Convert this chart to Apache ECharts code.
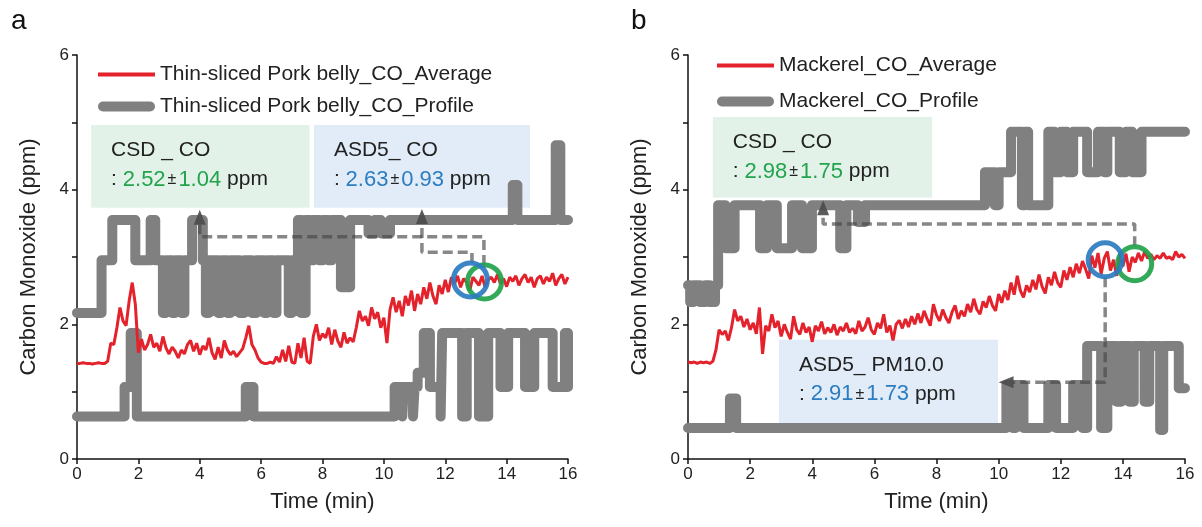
<!DOCTYPE html>
<html>
<head>
<meta charset="utf-8">
<script src="https://cdn.jsdelivr.net/npm/echarts@6/dist/echarts.min.js"></script>
<style>
  html, body { margin: 0; padding: 0; background: #fff; }
  #chart { width: 1202px; height: 527px; }
</style>
</head>
<body>
<div id="chart"></div>
<script>
// average CO, one reading every 0.1 min (0 .. 16 min)
const STEP = 0.1;
const porkAvg = [
  1.42,1.42,1.43,1.42,1.42,1.41,1.42,1.43,1.42,1.42,
  1.45,1.72,1.70,1.95,2.25,2.05,1.98,2.35,2.62,2.30,
  1.58,1.78,1.62,1.70,1.85,1.66,1.72,1.60,1.82,1.65,
  1.56,1.66,1.60,1.50,1.62,1.56,1.70,1.76,1.60,1.72,
  1.55,1.68,1.62,1.80,1.58,1.48,1.66,1.50,1.76,1.62,
  1.55,1.60,1.52,1.58,1.64,1.80,1.98,1.70,1.62,1.50,
  1.44,1.42,1.42,1.44,1.42,1.52,1.44,1.62,1.45,1.68,
  1.44,1.42,1.72,1.50,1.80,1.45,1.42,1.82,2.00,1.76,
  1.86,1.80,1.95,1.70,1.92,1.75,1.66,1.88,1.72,1.80,
  1.74,1.95,2.20,2.05,2.12,1.98,2.25,2.08,2.18,1.95,
  2.10,1.72,2.22,2.40,2.18,2.35,2.12,2.42,2.28,2.50,
  2.20,2.45,2.30,2.55,2.38,2.62,2.42,2.30,2.58,2.45,
  2.66,2.48,2.70,2.60,2.72,2.55,2.68,2.62,2.50,2.70,
  2.64,2.58,2.72,2.55,2.66,2.70,2.62,2.74,2.60,2.68,
  2.56,2.70,2.64,2.72,2.58,2.68,2.74,2.62,2.70,2.55,
  2.68,2.72,2.60,2.70,2.64,2.76,2.58,2.68,2.74,2.60,
  2.70
];
const mackerelAvg = [
  1.44,1.43,1.44,1.42,1.44,1.43,1.44,1.42,1.45,1.62,
  1.92,1.85,1.90,1.76,1.95,2.22,2.05,2.12,1.96,2.08,
  1.92,2.02,1.86,2.25,1.56,1.98,1.90,2.15,1.95,2.05,
  1.82,2.00,1.88,1.78,2.12,1.92,1.85,2.02,1.88,1.96,
  1.74,1.98,1.90,2.04,1.86,1.95,1.88,2.00,1.84,1.96,
  1.90,2.02,1.88,1.94,1.86,2.05,1.90,1.96,2.10,1.92,
  1.85,2.02,1.94,2.15,1.88,1.98,1.76,2.00,2.06,1.94,
  2.08,1.96,2.12,2.00,2.16,2.02,2.20,2.08,1.98,2.30,
  2.14,2.05,2.22,2.10,2.02,2.18,2.28,2.08,2.20,2.12,
  2.30,2.18,2.38,2.22,2.15,2.34,2.25,2.42,2.28,2.20,
  2.45,2.32,2.50,2.36,2.62,2.44,2.72,2.50,2.40,2.58,
  2.48,2.66,2.52,2.74,2.56,2.46,2.70,2.58,2.78,2.62,
  2.55,2.80,2.66,2.85,2.70,2.90,2.76,2.94,2.82,2.68,
  3.02,2.84,3.06,2.75,2.98,3.08,2.80,2.96,2.72,3.04,
  2.86,3.05,2.78,3.00,2.92,3.06,2.94,3.08,2.98,3.04,
  2.96,3.02,2.98,3.06,2.98,3.00,2.96,3.08,3.00,3.04,
  2.98
];

// sensor profiles: [time where the reading changes, new reading]
const porkHigh = [
  [0,2.17],[0.8,2.95],[1.15,3.55],[1.9,2.95],[2.4,3.55],[2.55,2.95],[2.8,2.17],[2.9,2.95],
  [3.1,2.17],[3.2,2.95],[3.4,2.17],[3.5,2.95],[3.75,3.55],[4.1,2.95],[4.2,2.17],[4.3,2.95],
  [4.6,2.17],[4.7,2.95],[4.9,2.17],[5.0,2.95],[5.3,2.17],[5.45,2.95],[5.7,2.17],[5.85,2.95],
  [6.1,2.17],[6.2,2.95],[6.4,2.17],[6.5,2.95],[6.9,2.17],[7.0,2.95],[7.2,3.55],[7.3,2.17],
  [7.45,3.55],[7.6,2.95],[7.7,3.55],[7.9,2.95],[8.0,3.55],[8.2,2.95],[8.3,3.55],[8.6,2.55],
  [8.9,3.55],[9.5,3.35],[9.7,3.55],[9.9,3.35],[10.2,3.55],[14.2,4.07],[14.35,3.55],
  [15.6,4.66],[15.75,3.55],[16,3.55]
];
const porkLow = [
  [0,0.63],[1.55,1.07],[1.75,1.87],[1.95,0.63],[5.5,1.07],[5.75,0.63],[10.35,1.07],[10.6,0.63],
  [10.65,1.07],[10.95,0.63],[11.0,1.07],[11.1,1.28],[11.3,1.87],[11.5,1.07],[11.85,0.63],
  [11.9,1.87],[12.55,0.63],[12.7,1.87],[13.1,0.63],[13.4,1.87],[13.8,1.07],[14.05,1.87],
  [14.6,1.07],[14.9,1.87],[15.5,1.07],[15.9,1.87],[16,1.07]
];
const mackerelHigh = [
  [0,2.58],[0.07,2.33],[0.17,2.58],[0.39,2.33],[0.55,2.58],[0.7,2.33],[0.87,2.58],[0.97,3.77],
  [1.2,3.13],[1.5,3.77],[2.32,3.13],[2.54,3.77],[2.86,3.13],[3.35,3.77],[3.67,3.13],[3.99,3.77],
  [4.9,3.13],[5.1,3.77],[5.47,3.52],[5.7,3.77],[9.56,4.26],[9.88,3.77],[10.0,4.26],[10.4,4.86],
  [10.75,3.77],[10.85,4.86],[10.95,3.77],[11.6,4.86],[11.8,4.26],[12.0,4.86],[12.2,4.26],
  [12.4,4.86],[12.85,4.26],[13.2,4.86],[13.4,4.26],[13.5,4.86],[13.9,4.26],[14.1,4.86],
  [14.3,4.26],[14.6,4.86],[16,4.86]
];
const mackerelLow = [
  [0,0.46],[1.35,0.9],[1.55,0.46],[10.25,1.1],[10.45,0.46],[10.55,1.1],[10.8,0.46],[11.6,1.1],
  [11.85,0.46],[12.4,1.1],[12.7,0.46],[12.85,1.68],[13.3,0.46],[13.5,1.68],[13.8,0.85],
  [13.95,1.68],[14.2,0.85],[14.35,1.68],[14.7,0.85],[14.85,1.68],[15.2,0.43],[15.3,1.68],
  [15.8,1.05],[16,1.05]
];

// annotation values (ppm)
const porkCSD = ['2.52', '1.04'];
const porkASD = ['2.63', '0.93'];
const mackCSD = ['2.98', '1.75'];
const mackASD = ['2.91', '1.73'];

const xTicks = 2;
const RED = '#e3222b', GREY = '#808080', GREEN = '#22a34c', BLUE = '#2b7cc0';
const DASH = 'rgba(70,70,70,0.65)';
const FONT = '"Liberation Sans", Arial, sans-serif';
// legend samples: thin red stroke and thick rounded grey bar
const ICON_THIN = 'path://M0,0 L57,0 L57,4 L0,4 Z';
const ICON_THICK = 'path://M5,0 L52,0 A5,5 0 0 1 52,10 L5,10 A5,5 0 0 1 5,0 Z';

function timed(vals) {
  return vals.map((v, i) => [+(i * STEP).toFixed(1), v]);
}

function boxLabel(title, vals, color) {
  return {
    show: true,
    position: 'insideTopLeft',
    distance: 0,
    padding: [11, 0, 0, 20],
    formatter: '{t|' + title + '}\n{p|: }{c|' + vals[0] + '}{pm|±}{c|' + vals[1] + '}{p| ppm}',
    rich: {
      t: { fontSize: 21, color: '#222', lineHeight: 29, fontFamily: FONT },
      p: { fontSize: 21, color: '#222', lineHeight: 29, fontFamily: FONT },
      pm: { fontSize: 16, color: '#222', lineHeight: 29, padding: [0, 2, 0, 2], fontFamily: FONT },
      c: { fontSize: 22, color: color, lineHeight: 29, fontFamily: FONT }
    }
  };
}

function axisX(idx) {
  return {
    type: 'value', gridIndex: idx, min: 0, max: 16, interval: xTicks,
    name: 'Time (min)', nameLocation: 'middle', nameGap: 32,
    nameTextStyle: { fontSize: 22, color: '#222' },
    axisLine: { lineStyle: { color: '#111', width: 1.5 } },
    axisTick: { length: 5, lineStyle: { color: '#111', width: 1.5 } },
    axisLabel: { fontSize: 17, color: '#222', margin: 7 },
    splitLine: { show: false }
  };
}
function axisY(idx) {
  return {
    type: 'value', gridIndex: idx, min: 0, max: 6, interval: 1,
    name: 'Carbon Monoxide (ppm)', nameLocation: 'middle', nameGap: 37,
    nameTextStyle: { fontSize: 22, color: '#222' },
    axisLine: { show: true, lineStyle: { color: '#111', width: 1.5 } },
    axisTick: { show: true, length: 5, lineStyle: { color: '#111', width: 1.5 } },
    axisLabel: { fontSize: 17, color: '#222', margin: 8,
      formatter: v => (v % 2 === 0 ? v : '') },
    splitLine: { show: false }
  };
}

function panel(idx, names, avg, high, low, boxes, greenPath, bluePath, arrows, circles) {
  const base = { xAxisIndex: idx, yAxisIndex: idx, animation: false, silent: true };
  const profile = {
    type: 'line', step: 'end', symbol: 'none', z: 2,
    lineStyle: { color: GREY, width: 10, cap: 'round', join: 'round' },
    itemStyle: { color: GREY }
  };
  return [
    Object.assign({}, base, {
      type: 'line', data: [], z: 1,
      markArea: { silent: true, data: boxes }
    }),
    Object.assign({}, base, profile, { name: names[1], data: high }),
    Object.assign({}, base, profile, { name: names[1], data: low }),
    Object.assign({}, base, {
      name: names[0], type: 'line', symbol: 'none', z: 3, data: timed(avg),
      lineStyle: { color: RED, width: 3 }, itemStyle: { color: RED }
    }),
    Object.assign({}, base, {
      type: 'line', symbol: 'none', z: 4, data: greenPath,
      lineStyle: { color: DASH, width: 3.5, type: [10, 5] }
    }),
    Object.assign({}, base, {
      type: 'line', symbol: 'none', z: 4, data: bluePath,
      lineStyle: { color: DASH, width: 3.5, type: [10, 5] }
    }),
    Object.assign({}, base, {
      type: 'scatter', z: 5, symbol: 'triangle', symbolSize: [12, 15],
      data: arrows, itemStyle: { color: '#4a4a4a', opacity: 0.9 }
    }),
    Object.assign({}, base, {
      type: 'scatter', z: 6, symbolSize: 34,
      data: circles
    })
  ];
}

const area = (x0, y0, x1, y1, fill, label) => [
  { coord: [x0, y0], itemStyle: { color: fill }, label: label },
  { coord: [x1, y1] }
];
const ring = (x, y, color) => ({
  value: [x, y],
  itemStyle: { color: 'rgba(0,0,0,0)', borderColor: color, borderWidth: 5, opacity: 0.92 }
});

const namesA = ['Thin-sliced Pork belly_CO_Average', 'Thin-sliced Pork belly_CO_Profile'];
const namesB = ['Mackerel_CO_Average', 'Mackerel_CO_Profile'];

const seriesA = panel(0, namesA, porkAvg, porkHigh, porkLow,
  [
    area(0.46, 4.96, 7.58, 3.73, 'rgba(222,240,229,0.85)', boxLabel('CSD _ CO', porkCSD, GREEN)),
    area(7.72, 4.96, 14.76, 3.73, 'rgba(220,233,247,0.85)', boxLabel('ASD5_ CO', porkASD, BLUE))
  ],
  [[13.26, 2.88], [13.26, 3.30], [4.0, 3.30], [4.0, 3.48]],
  [[12.87, 2.91], [12.87, 3.07], [11.24, 3.07], [11.24, 3.50]],
  [[4.0, 3.59], [11.24, 3.6]],
  [ring(13.28, 2.63, GREEN), ring(12.82, 2.66, BLUE)]
);
const seriesB = panel(1, namesB, mackerelAvg, mackerelHigh, mackerelLow,
  [
    area(0.8, 5.08, 7.86, 3.88, 'rgba(222,240,229,0.85)', boxLabel('CSD _ CO', mackCSD, GREEN)),
    area(2.93, 1.77, 9.98, 0.50, 'rgba(220,233,247,0.85)', boxLabel('ASD5_ PM10.0', mackASD, BLUE))
  ],
  [[14.38, 3.16], [14.38, 3.49], [4.35, 3.49], [4.35, 3.62]],
  [[13.43, 2.70], [13.43, 1.14], [10.46, 1.14]],
  [[4.35, 3.73], { value: [10.24, 1.14], symbolRotate: 90 }],
  [ring(14.38, 2.90, GREEN), ring(13.43, 2.96, BLUE)]
);

const legendItems = names => [
  { name: names[0], icon: ICON_THIN },
  { name: names[1], icon: ICON_THICK }
];

const chart = echarts.init(document.getElementById('chart'));
chart.setOption({
  animation: false,
  backgroundColor: '#fff',
  textStyle: { fontFamily: FONT },
  title: [
    { text: 'a', left: 6, top: 2, textStyle: { fontSize: 28, fontWeight: 'normal', color: '#111' } },
    { text: 'b', left: 626, top: 2, textStyle: { fontSize: 28, fontWeight: 'normal', color: '#111' } }
  ],
  legend: [
    { data: legendItems(namesA), orient: 'vertical', left: 93, top: 59, itemWidth: 57, itemHeight: 14,
      itemGap: 11, selectedMode: false, textStyle: { fontSize: 21, color: '#222' } },
    { data: legendItems(namesB), orient: 'vertical', left: 712, top: 50, itemWidth: 57, itemHeight: 14,
      itemGap: 15, selectedMode: false, textStyle: { fontSize: 21, color: '#222' } }
  ],
  grid: [
    { left: 77, top: 55, width: 491, height: 404 },
    { left: 688, top: 55, width: 497, height: 404 }
  ],
  xAxis: [axisX(0), axisX(1)],
  yAxis: [axisY(0), axisY(1)],
  series: seriesA.concat(seriesB)
});
</script>
</body>
</html>
